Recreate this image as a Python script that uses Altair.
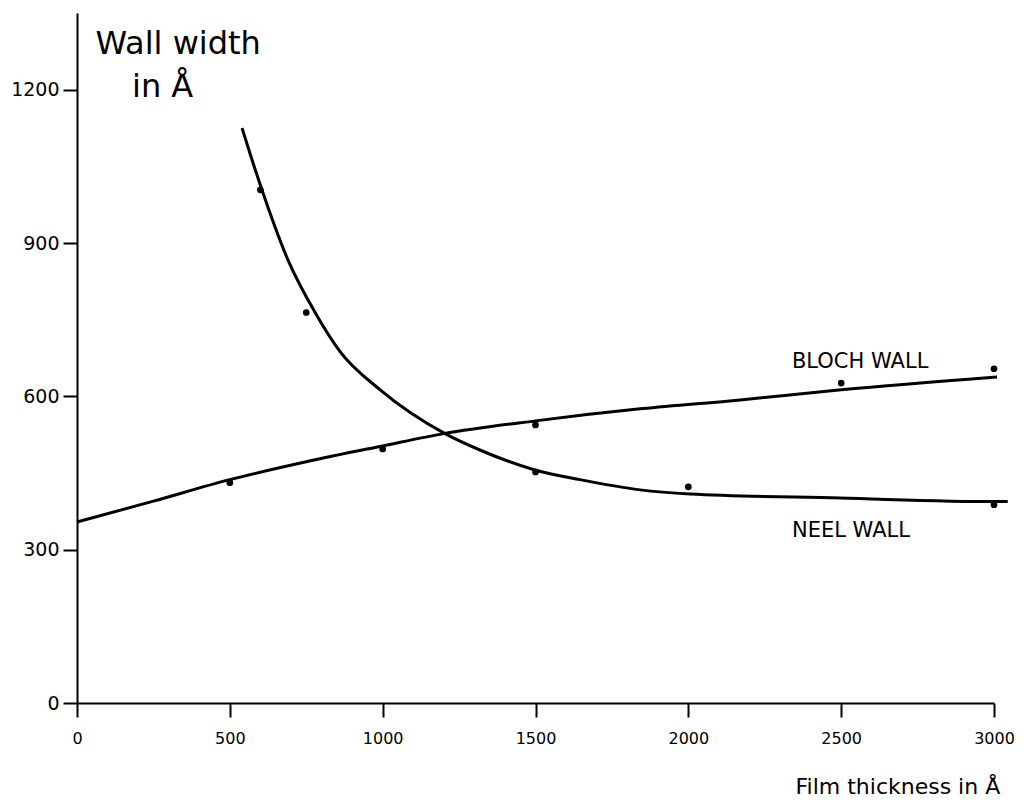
import altair as alt
import pandas as pd

# Curves
bloch_x = [0, 250, 500, 750, 1000, 1200, 1500, 1850, 2170, 2500, 3010]
bloch_y = [354, 395, 437, 472, 503, 527, 552, 576, 593, 613, 638]

neel_x = [540, 566, 605, 690, 779, 860, 991, 1204, 1318, 1498, 1645, 1842, 2005, 2496, 3009, 3045]
neel_y = [1125, 1075, 1004, 867, 764, 688, 613, 527, 495, 456, 437, 417, 409, 401, 394, 394]

# Measured points
bloch_pt_x = [500, 1000, 1500, 2500, 3000]
bloch_pt_y = [431, 497, 544, 626, 654]
neel_pt_x = [600, 750, 1500, 2000, 3000]
neel_pt_y = [1004, 764, 452, 423, 388]

# Curve labels and the second line of the y title
label_text = ["BLOCH WALL", "NEEL WALL"]
label_x = [2339, 2339]
label_y = [656, 325]
unit_text = ["in Å"]
unit_x = [180]
unit_y = [1186]

x_ticks = [0, 500, 1000, 1500, 2000, 2500, 3000]
y_ticks = [0, 300, 600, 900, 1200]

curves = pd.concat([
    pd.DataFrame({"x": bloch_x, "y": bloch_y, "wall": "Bloch"}),
    pd.DataFrame({"x": neel_x, "y": neel_y, "wall": "Neel"}),
])
points = pd.concat([
    pd.DataFrame({"x": bloch_pt_x, "y": bloch_pt_y, "wall": "Bloch"}),
    pd.DataFrame({"x": neel_pt_x, "y": neel_pt_y, "wall": "Neel"}),
])
labels = pd.DataFrame({"text": label_text, "x": label_x, "y": label_y})
unit = pd.DataFrame({"text": unit_text, "x": unit_x, "y": unit_y})

FONT = "DejaVu Sans"

xscale = alt.Scale(domain=[0, 3000], nice=False, zero=False)
yscale = alt.Scale(domain=[0, 1350], nice=False, zero=False)

xaxis = alt.Axis(
    values=x_ticks, format="d", title="Film thickness in Å", titleAngle=0,
    titleX=718, titleY=90, titleAlign="left", titleBaseline="alphabetic",
    titleFont=FONT, titleFontSize=22, titleFontWeight="normal", titleColor="black",
    labelFont=FONT, labelFontSize=16, labelColor="black", labelPadding=13,
    labelFlush=False,
    tickSize=14, tickWidth=2, tickColor="black",
    domainColor="black", domainWidth=2, grid=False,
)
yaxis = alt.Axis(
    values=y_ticks, format="d", title="Wall width", titleAngle=0,
    titleX=18, titleY=40, titleAlign="left", titleBaseline="alphabetic",
    titleFont=FONT, titleFontSize=32, titleFontWeight="normal", titleColor="black",
    labelFont=FONT, labelFontSize=19, labelColor="black", labelPadding=4,
    labelFlush=False,
    tickSize=14, tickWidth=2, tickColor="black",
    domainColor="black", domainWidth=2, grid=False,
)

lines = alt.Chart(curves).mark_line(
    color="black", strokeWidth=3, interpolate="monotone", clip=False
).encode(
    x=alt.X("x:Q", scale=xscale, axis=xaxis),
    y=alt.Y("y:Q", scale=yscale, axis=yaxis),
    detail="wall:N",
)

dots = alt.Chart(points).mark_point(
    filled=True, color="black", size=45, opacity=1
).encode(
    x=alt.X("x:Q", scale=xscale),
    y=alt.Y("y:Q", scale=yscale),
)

texts = alt.Chart(labels).mark_text(
    font=FONT, fontSize=21, color="black", align="left", baseline="alphabetic"
).encode(
    x=alt.X("x:Q", scale=xscale),
    y=alt.Y("y:Q", scale=yscale),
    text="text:N",
)

unit_label = alt.Chart(unit).mark_text(
    font=FONT, fontSize=32, color="black", align="left", baseline="alphabetic"
).encode(
    x=alt.X("x:Q", scale=xscale),
    y=alt.Y("y:Q", scale=yscale),
    text="text:N",
)

chart = alt.layer(lines, dots, texts, unit_label).properties(
    width=917, height=690,
    background="white",
    autosize=alt.AutoSizeParams(type="none"),
    padding={"left": 69, "top": 5, "right": 20, "bottom": 100},
).configure_view(strokeWidth=0, stroke="transparent")

chart.save("out.html", embed_options={"renderer": "svg", "actions": False})
